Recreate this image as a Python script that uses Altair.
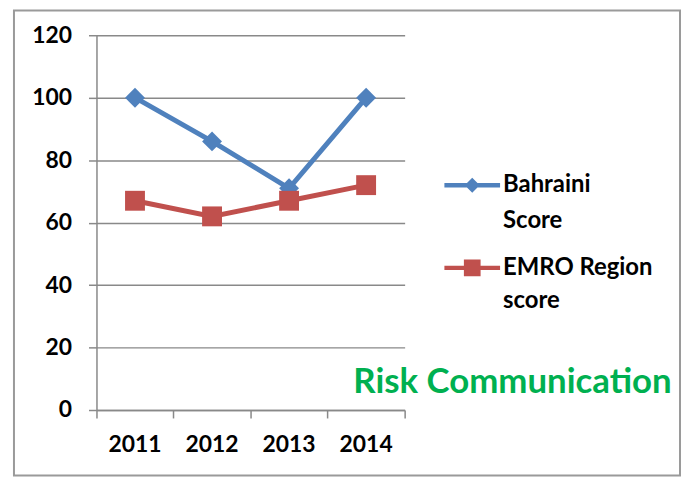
import altair as alt
import pandas as pd

years = ["2011", "2012", "2013", "2014"]
bahraini = [100, 86, 71, 100]
emro = [67, 62, 67, 72]
series_names = ["Bahraini Score", "EMRO Region score"]
label_first = ["Bahraini", "EMRO Region"]
label_second = ["Score", "score"]
colors = ["#4F81BD", "#C0504D"]
shapes = ["diamond", "square"]
y_ticks = [0, 20, 40, 60, 80, 100, 120]
panel_title = "Risk Communication"

rows = []
for s, vals, l2 in [(series_names[0], bahraini, label_second[0]), (series_names[1], emro, label_second[1])]:
    for yr, v in zip(years, vals):
        rows.append({"series": s, "year": yr, "value": v, "line2": l2})
df = pd.DataFrame(rows)

FONT = "Lato"
GRAY = "#898989"

xscale = alt.Scale(type="band", paddingInner=0, paddingOuter=0, domain=years)
yscale = alt.Scale(domain=[0, 120])
cscale = alt.Scale(domain=series_names, range=colors)

x_enc = alt.X("year:N", scale=xscale, sort=years,
              axis=alt.Axis(title=None, bandPosition=1, tickExtra=True, grid=False,
                            tickSize=8, tickColor=GRAY, tickWidth=1.5,
                            domainColor=GRAY, domainWidth=1.5,
                            labelFont=FONT, labelFontSize=23, labelFontWeight="bold",
                            labelColor="black", labelPadding=16, labelAngle=0))
y_enc = alt.Y("value:Q", scale=yscale,
              axis=alt.Axis(title=None, values=y_ticks, grid=True, gridColor=GRAY, gridWidth=1.5,
                            tickSize=8, tickColor=GRAY, tickWidth=1.5,
                            domainColor=GRAY, domainWidth=1.5,
                            labelFont=FONT, labelFontSize=23, labelFontWeight="bold",
                            labelColor="black", labelPadding=17))

layers = []
for i, s in enumerate(series_names):
    base = alt.Chart(df).transform_filter(alt.datum.series == s)
    layers.append(base.mark_line(strokeWidth=5, color=colors[i]).encode(x=x_enc, y=y_enc))
for i, s in enumerate(series_names):
    base = alt.Chart(df).transform_filter(alt.datum.series == s)
    layers.append(base.mark_point(shape=shapes[i], filled=True, size=400, opacity=1, color=colors[i]).encode(
        x=alt.X("year:N", scale=xscale, sort=years), y=alt.Y("value:Q", scale=yscale)))

diamond_sym = "M-1,-0.08H1V0.08H-1Z M0,-0.27L0.27,0L0,0.27L-0.27,0Z"
square_sym = "M-1,-0.08H1V0.08H-1Z M-0.3,-0.3H0.3V0.3H-0.3Z"

labexpr = "datum.label == '%s' ? '%s' : '%s'" % (series_names[0], label_first[0], label_first[1])
legA = alt.Legend(title=None, orient="none", legendX=350, legendY=123, padding=0,
                  symbolSize=3136, symbolOpacity=1, symbolStrokeWidth=0, rowPadding=43,
                  labelOffset=3, labelFont=FONT, labelFontSize=24, labelFontWeight="bold",
                  labelColor="black", labelLimit=300, labelExpr=labexpr)
legB = alt.Legend(title=None, orient="none", legendX=350, legendY=159, padding=0,
                  symbolSize=3136, symbolOpacity=0, symbolStrokeWidth=0, rowPadding=24.5,
                  labelOffset=3, labelFont=FONT, labelFontSize=24, labelFontWeight="bold",
                  labelColor="black", labelLimit=300)

ghost = alt.Chart(df).mark_point(filled=True, opacity=0, size=1).encode(
    x=alt.X("year:N", scale=xscale, sort=years), y=alt.Y("value:Q", scale=yscale),
    color=alt.Color("series:N", scale=cscale, legend=legA),
    shape=alt.Shape("series:N", scale=alt.Scale(domain=series_names, range=[diamond_sym, square_sym]),
                    legend=legA),
    strokeDash=alt.StrokeDash("line2:N", scale=alt.Scale(domain=label_second, range=[[1, 0], [1, 0]]),
                              legend=legB),
)

one = pd.DataFrame({"k": [0]})
border = alt.Chart(one).mark_rect(fill="transparent", stroke="#9a9a9a", strokeWidth=2).encode(
    x=alt.value(-83), x2=alt.value(587), y=alt.value(-25), y2=alt.value(443)
)
title_txt = alt.Chart(one).mark_text(text=panel_title, font=FONT, fontSize=35, fontWeight="bold",
                                     color="#00B050", align="center", baseline="middle").encode(
    x=alt.value(418.5), y=alt.value(349)
)

chart = alt.layer(border, *layers, ghost, title_txt).properties(
    width=310, height=377, autosize="none",
    padding={"left": 89, "top": 26, "right": 278, "bottom": 67},
    background="white",
).configure_view(stroke=None)

chart.save("out.html", embed_options={"renderer": "svg", "actions": False})
